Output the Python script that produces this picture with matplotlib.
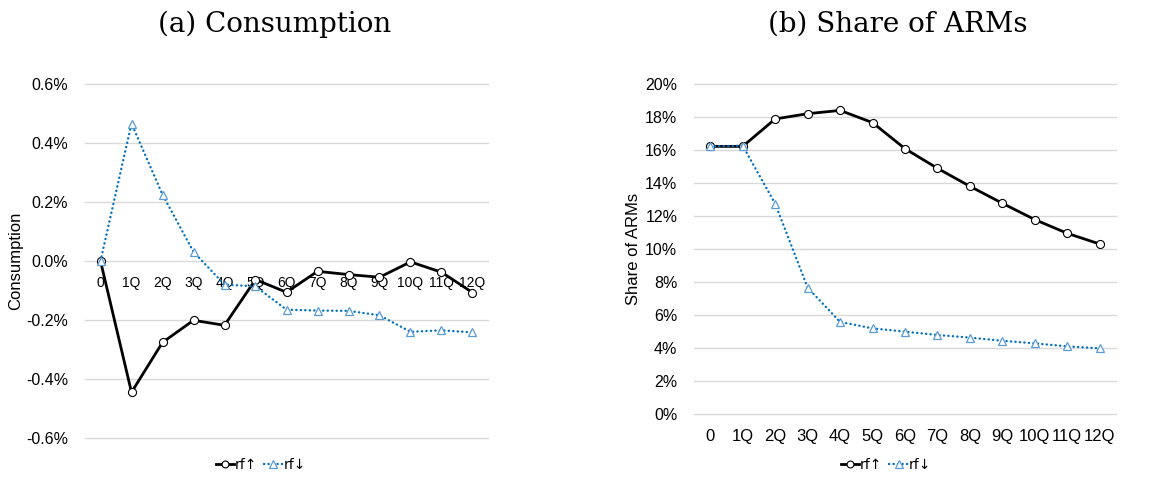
import matplotlib
matplotlib.use("Agg")
import matplotlib.pyplot as plt
from matplotlib.ticker import FuncFormatter

categories = ["0", "1Q", "2Q", "3Q", "4Q", "5Q", "6Q", "7Q", "8Q", "9Q", "10Q", "11Q", "12Q"]

# (a) Consumption, in %
cons_up = [0.0, -0.445, -0.276, -0.201, -0.218, -0.063, -0.106, -0.035, -0.046, -0.055, -0.003, -0.038, -0.107]
cons_down = [0.0, 0.466, 0.225, 0.031, -0.080, -0.086, -0.165, -0.168, -0.169, -0.184, -0.240, -0.235, -0.242]

# (b) Share of ARMs, in %
arm_up = [16.22, 16.22, 17.88, 18.20, 18.40, 17.66, 16.08, 14.89, 13.80, 12.77, 11.78, 10.95, 10.30]
arm_down = [16.22, 16.26, 12.75, 7.66, 5.58, 5.19, 4.99, 4.79, 4.63, 4.44, 4.28, 4.10, 3.98]

series_labels = ["rf\u2191", "rf\u2193"]
titles = ["(a) Consumption", "(b) Share of ARMs"]
ylabels = ["Consumption", "Share of ARMs"]

plt.rcParams['font.family'] = ['Liberation Sans', 'DejaVu Sans']

W, H = 1169, 479
fig = plt.figure(figsize=(W / 100, H / 100), dpi=100)

def box(x0, x1, ytop, ybot):
    return [x0 / W, 1 - ybot / H, (x1 - x0) / W, (ybot - ytop) / H]

axL = fig.add_axes(box(85, 488, 84, 438))
axR = fig.add_axes(box(694, 1116, 84, 414))

black = "#000000"
blue = "#0070C0"
tri_edge = "#5B9BD5"
grid_c = "#D9D9D9"

x = list(range(len(categories)))

def draw(ax, up, down):
    l1, = ax.plot(x, up, color=black, lw=2.0, marker="o", ms=5.8, mfc="white",
                  mec=black, mew=0.8, zorder=3, label=series_labels[0])
    l2, = ax.plot(x, down, color=blue, lw=1.7, ls=(0, (0.1, 1.8)), dash_capstyle="round",
                  marker="^", ms=6, mfc="white", mec=tri_edge, mew=0.9, zorder=4,
                  label=series_labels[1])
    ax.set_xlim(-0.5, len(categories) - 0.5)
    ax.set_xticks(x)
    ax.set_xticklabels(categories, fontsize=12)
    ax.tick_params(axis="both", length=0)
    ax.tick_params(axis="x", pad=11)
    ax.tick_params(axis="y", pad=12, labelsize=11.5)
    for s in ax.spines.values():
        s.set_visible(False)
    ax.yaxis.grid(True, color=grid_c, lw=1)
    ax.set_axisbelow(True)
    return l1, l2

l1, l2 = draw(axL, cons_up, cons_down)
axL.set_ylim(-0.6, 0.6)
axL.set_yticks([-0.6, -0.4, -0.2, 0.0, 0.2, 0.4, 0.6])
axL.yaxis.set_major_formatter(FuncFormatter(lambda v, p: f"{v:.1f}%"))
axL.spines["bottom"].set_position(("data", 0))

draw(axR, arm_up, arm_down)
axR.set_ylim(0, 20)
axR.set_yticks(range(0, 21, 2))
axR.yaxis.set_major_formatter(FuncFormatter(lambda v, p: f"{v:.0f}%"))

for ax in (axL, axR):
    for gl in ax.get_ygridlines():
        gl.set_clip_on(False)

fig.text(16 / W, 1 - 261 / H, ylabels[0], rotation=90, ha="center", va="center", fontsize=12)
fig.text(633 / W, 1 - 249 / H, ylabels[1], rotation=90, ha="center", va="center", fontsize=12)

title_font = ['DejaVu Serif']
fig.text(275 / W, 1 - 24 / H, titles[0], ha="center", va="center", fontsize=20, family=title_font)
fig.text(898 / W, 1 - 24 / H, titles[1], ha="center", va="center", fontsize=20, family=title_font)

for cx in (261, 886):
    fig.legend([l1, l2], series_labels, loc="center", bbox_to_anchor=(cx / W, 1 - 465 / H),
               ncol=2, frameon=False, prop={'family': ['DejaVu Sans'], 'size': 10},
               handlelength=1.3, handletextpad=0.1, columnspacing=0.5, markerscale=0.85)

fig.savefig("out.png", dpi=100)
